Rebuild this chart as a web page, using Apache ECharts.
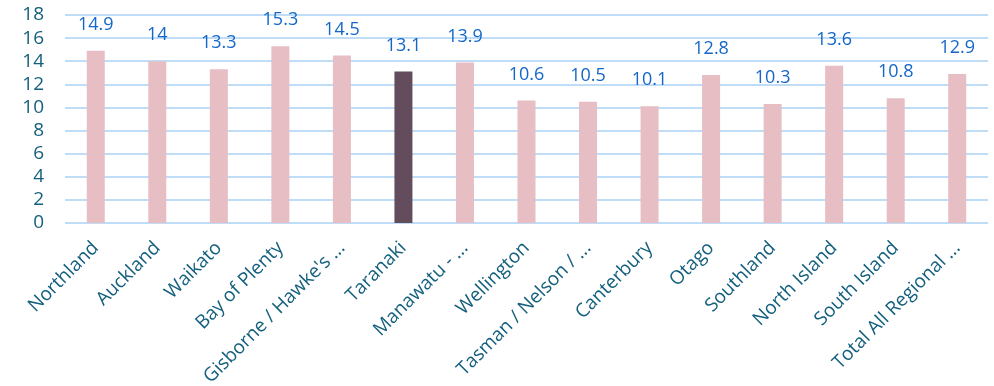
<!DOCTYPE html>
<html><head><meta charset="utf-8">
<script src="https://cdn.jsdelivr.net/npm/echarts@6/dist/echarts.min.js"></script>
<style>html,body{margin:0;padding:0;background:#fff}#c{width:994px;height:386px}</style>
</head><body><div id="c"></div>
<script>
var categories = ["Northland","Auckland","Waikato","Bay of Plenty","Gisborne / Hawke's ...","Taranaki","Manawatu - ...","Wellington","Tasman / Nelson / ...","Canterbury","Otago","Southland","North Island","South Island","Total All Regional ..."];
var values = [14.9,14,13.3,15.3,14.5,13.1,13.9,10.6,10.5,10.1,12.8,10.3,13.6,10.8,12.9];
var highlight = "Taranaki";
var yTicks = [0,2,4,6,8,10,12,14,16,18];

var chart = echarts.init(document.getElementById('c'));
chart.setOption({
  animation:false,
  grid:{left:65,right:6,top:15,bottom:163,containLabel:false,outerBoundsMode:'none'},
  xAxis:{type:'category',data:categories,
    axisLine:{show:false},axisTick:{show:false},
    axisLabel:{rotate:45,interval:0,color:'#15607E',fontFamily:'Open Sans',fontSize:19,margin:22}},
  yAxis:{type:'value',min:yTicks[0],max:yTicks[yTicks.length-1],interval:2,
    axisLine:{show:false},axisTick:{show:false},
    splitLine:{lineStyle:{color:'#BFDDF7',width:2}},
    axisLabel:{color:'#15607E',fontFamily:'Open Sans',fontSize:19,margin:21}},
  series:[{type:'bar',barWidth:18,
    data:values.map(function(v,i){return {value:v,itemStyle:{color:categories[i]===highlight?'#634D5C':'#E6BEC3'}};}),
    label:{show:true,position:'top',distance:17,color:'#1467C8',fontFamily:'Open Sans',fontSize:18}}]
});
</script></body></html>
